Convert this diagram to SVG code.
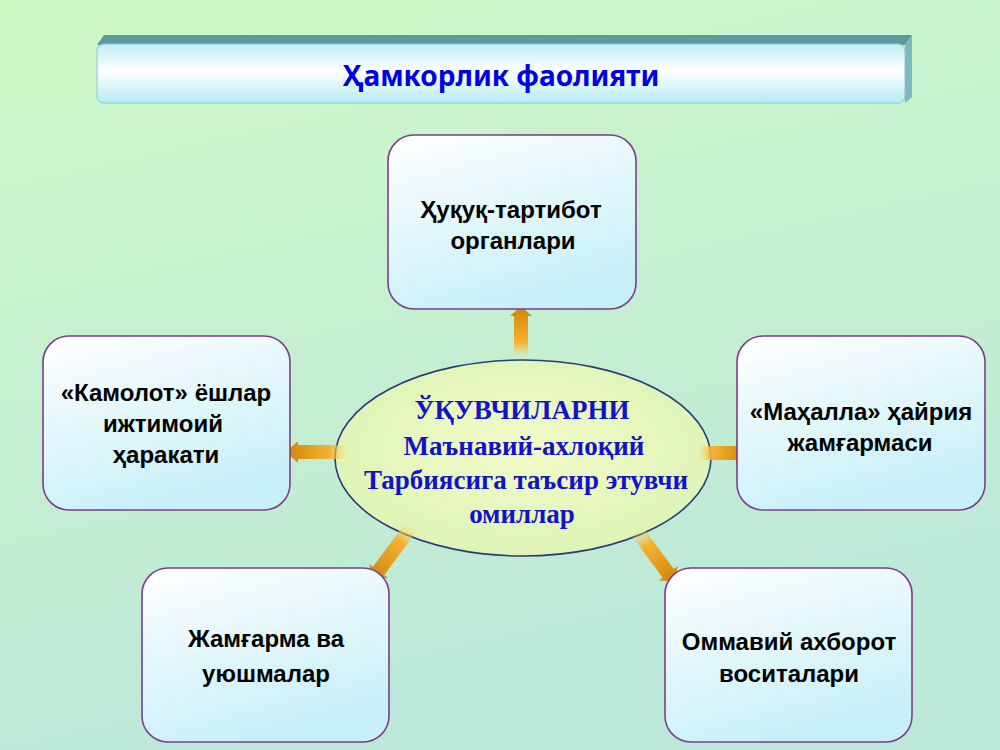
<svg xmlns="http://www.w3.org/2000/svg" width="1000" height="750" viewBox="0 0 1000 750">
<defs>
<linearGradient id="bg" x1="0" y1="0" x2="0.3" y2="1">
<stop offset="0" stop-color="#cff8c6"/>
<stop offset="1" stop-color="#bce8da"/>
</linearGradient>
<linearGradient id="bar" x1="0" y1="0" x2="0" y2="1">
<stop offset="0" stop-color="#bdeef6"/>
<stop offset="0.45" stop-color="#ffffff"/>
<stop offset="1" stop-color="#b4ecf4"/>
</linearGradient>
<linearGradient id="box" x1="0" y1="0" x2="0.4" y2="1">
<stop offset="0" stop-color="#ffffff"/>
<stop offset="1" stop-color="#c8f0f8"/>
</linearGradient>
<radialGradient id="ell" cx="0.5" cy="0.45" r="0.6">
<stop offset="0" stop-color="#f2fbc8"/>
<stop offset="1" stop-color="#dcf3b4"/>
</radialGradient>
<linearGradient id="arr" x1="0" y1="0" x2="1" y2="0">
<stop offset="0" stop-color="#ffd870" stop-opacity="0"/>
<stop offset="0.3" stop-color="#f6b02c" stop-opacity="0.95"/>
<stop offset="1" stop-color="#d2860c"/>
</linearGradient>
<style>
.bx{fill:url(#box);stroke:#7e3c8c;stroke-width:1.6}
.bt{font-family:"Liberation Sans",Arial,sans-serif;font-weight:bold;font-size:24px;fill:#000;text-anchor:middle}
.et{font-family:"Liberation Serif","Times New Roman",serif;font-weight:bold;font-size:27px;fill:#1212c8;text-anchor:middle}
.ar{fill:url(#arr)}
</style>
</defs>
<rect width="1000" height="750" fill="url(#bg)"/>
<g id="title">
<path d="M104,35 L912,35 L905,45 L97,45 Z" fill="#5f98a0"/>
<path d="M905,45 L912,35 L912,97 L905,103 Z" fill="#7fb8c0"/>
<rect x="97" y="44" width="808" height="59" rx="7" fill="url(#bar)" stroke="#8cc8d0" stroke-width="1"/>
<text x="501" y="86" font-family="'Noto Sans','Liberation Sans',sans-serif" font-weight="bold" font-size="28" fill="#0000e6" text-anchor="middle">Ҳамкорлик фаолияти</text>
</g>
<g id="center">
<ellipse cx="523" cy="458" rx="188" ry="98" fill="url(#ell)" stroke="#2e3a78" stroke-width="1.6"/>
<text class="et" x="522" y="419">ЎҚУВЧИЛАРНИ</text>
<text class="et" x="524" y="455">Маънавий-ахлоқий</text>
<text class="et" x="526" y="489">Тарбиясига таъсир этувчи</text>
<text class="et" x="522" y="523">омиллар</text>
</g>
<g id="connectors">
<path class="ar" transform="translate(521,358) rotate(-90)" d="M0,-7 L42,-7 L42,-11 L50,-2 L50,2 L42,11 L42,7 L0,7 Z"/>
<path class="ar" transform="translate(348,452) rotate(180)" d="M0,-7 L50,-7 L50,-11 L60,-2 L60,2 L50,11 L50,7 L0,7 Z"/>
<path class="ar" transform="translate(698,453)" d="M0,-7 L38,-7 L38,-11 L46,-2 L46,2 L38,11 L38,7 L0,7 Z"/>
<path class="ar" transform="translate(412,526) rotate(126.7)" d="M0,-7 L56,-7 L56,-12 L64,-2 L64,2 L56,12 L56,7 L0,7 Z"/>
<path class="ar" transform="translate(636,530) rotate(53.3)" d="M0,-7 L54,-7 L54,-12 L62,-2 L62,2 L54,12 L54,7 L0,7 Z"/>
</g>
<g id="n-top">
<rect class="bx" x="388" y="135" width="248" height="174" rx="26"/>
<text class="bt" x="511" y="218">Ҳуқуқ-тартибот</text>
<text class="bt" x="513" y="249">органлари</text>
</g>
<g id="n-left">
<rect class="bx" x="43" y="336" width="247" height="174" rx="26"/>
<text class="bt" x="166" y="401">«Камолот» ёшлар</text>
<text class="bt" x="163" y="432">ижтимоий</text>
<text class="bt" x="166" y="463">ҳаракати</text>
</g>
<g id="n-right">
<rect class="bx" x="737" y="336" width="248" height="174" rx="26"/>
<text class="bt" x="861" y="420">«Маҳалла» ҳайрия</text>
<text class="bt" x="860" y="451">жамғармаси</text>
</g>
<g id="n-bl">
<rect class="bx" x="142" y="568" width="247" height="174" rx="26"/>
<text class="bt" x="266" y="647">Жамғарма ва</text>
<text class="bt" x="266" y="682">уюшмалар</text>
</g>
<g id="n-br">
<rect class="bx" x="665" y="568" width="247" height="174" rx="26"/>
<text class="bt" x="789" y="650">Оммавий ахборот</text>
<text class="bt" x="789" y="682">воситалари</text>
</g>
</svg>
